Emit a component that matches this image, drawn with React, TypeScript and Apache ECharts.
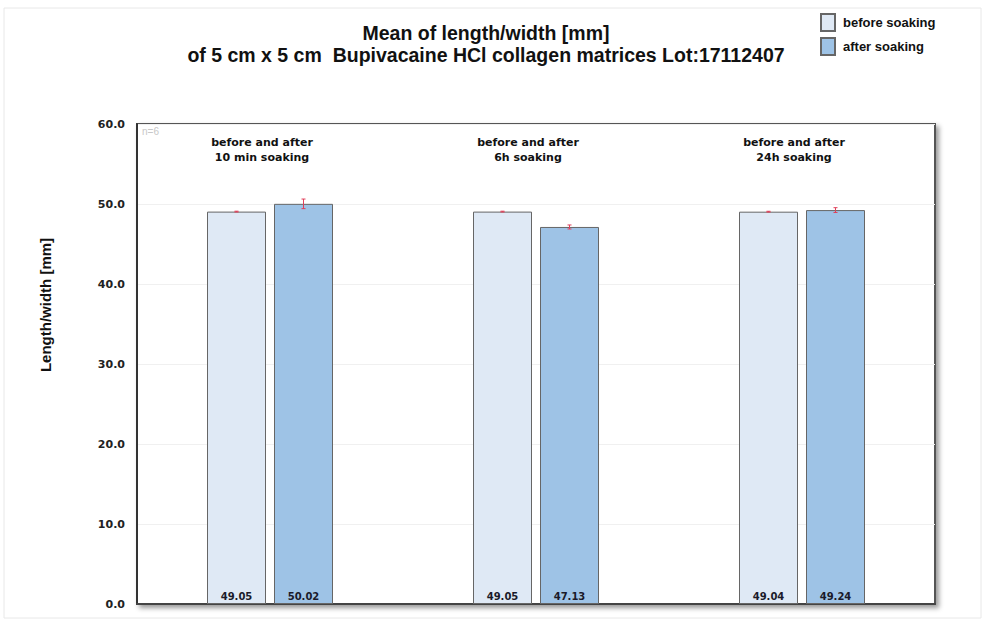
import React, { useEffect, useRef } from "react";
import * as echarts from "echarts";

const categories = ["10 min", "6h", "24h"];
const annotations = ["before and after\n10 min soaking", "before and after\n6h soaking", "before and after\n24h soaking"];
const beforeValues = [49.05, 49.05, 49.04];
const afterValues = [50.02, 47.13, 49.24];
const beforeErr = [0.05, 0.05, 0.05];
const afterErr = [0.6, 0.25, 0.3];
const yTicks = [0, 10, 20, 30, 40, 50, 60];
const seriesNames = ["before soaking", "after soaking"];
const titleLines = ["Mean of length/width [mm]", "of 5 cm x 5 cm  Bupivacaine HCl collagen matrices Lot:17112407"];
const yAxisName = "Length/width [mm]";
const sampleNote = "n=6";

const BAR_W = 59;
const GAP = 8;
const SANS = "Liberation Sans, Arial, sans-serif";
const VERD = "DejaVu Sans, Verdana, sans-serif";

export default function App() {
  const ref = useRef<HTMLDivElement>(null);
  useEffect(() => {
    const chart = echarts.init(ref.current!, null, { renderer: "svg" });
    const errData: any[] = [];
    categories.forEach((_, i) => {
      errData.push([i, beforeValues[i], beforeErr[i], 0]);
      errData.push([i, afterValues[i], afterErr[i], 1]);
    });
    const valueLabel = {
      show: true,
      position: "insideBottom",
      distance: 3,
      formatter: (p: any) => p.value.toFixed(2),
      fontSize: 10,
      fontWeight: "bold",
      color: "#1a1a2a",
      fontFamily: VERD,
    };
    const option: any = {
      animation: false,
      backgroundColor: "#fff",
      textStyle: { fontFamily: SANS },
      title: {
        text: titleLines.join("\n"),
        left: 481,
        textAlign: "center",
        top: 17,
        textStyle: { fontSize: 19.5, fontWeight: "bold", color: "#111", lineHeight: 22, fontFamily: SANS },
      },
      legend: {
        data: seriesNames,
        orient: "vertical",
        left: 815,
        top: 8,
        itemWidth: 14,
        itemHeight: 17,
        itemGap: 5,
        icon: "rect",
        textStyle: { fontSize: 13, fontWeight: "bold", color: "#111", padding: [-8, 0, 0, 3], fontFamily: SANS },
      },
      grid: {
        left: 137,
        right: 50,
        top: 124,
        bottom: 22,
        show: true,
        borderColor: "#555",
        borderWidth: 2,
        backgroundColor: "#fff",
        shadowBlur: 5,
        shadowColor: "rgba(0,0,0,0.4)",
        shadowOffsetX: 3,
        shadowOffsetY: 3,
      },
      xAxis: {
        type: "category",
        data: categories,
        axisLabel: { show: false },
        axisTick: { show: false },
        axisLine: { lineStyle: { color: "#444", width: 2 } },
      },
      yAxis: {
        type: "value",
        min: yTicks[0],
        max: yTicks[yTicks.length - 1],
        interval: 10,
        axisLabel: { formatter: (v: number) => v.toFixed(1), fontSize: 11, fontWeight: "bold", color: "#222", margin: 12, fontFamily: VERD },
        axisTick: { show: false },
        axisLine: { show: true, lineStyle: { color: "#333", width: 2 } },
        splitLine: { lineStyle: { color: "#f0f0f0", width: 1 } },
      },
      series: [
        {
          name: seriesNames[0],
          type: "bar",
          data: beforeValues,
          barWidth: BAR_W,
          barGap: (GAP / BAR_W) * 100 + "%",
          itemStyle: { color: "#dfe9f5", borderColor: "#666", borderWidth: 1 },
          label: valueLabel,
        },
        {
          name: seriesNames[1],
          type: "bar",
          data: afterValues,
          barWidth: BAR_W,
          itemStyle: { color: "#9ec3e6", borderColor: "#666", borderWidth: 1 },
          label: valueLabel,
        },
        {
          type: "custom",
          data: errData,
          z: 10,
          renderItem: (params: any, api: any) => {
            const i = api.value(0);
            const v = api.value(1);
            const e = api.value(2);
            const s = api.value(3);
            const c = api.coord([i, v]);
            const off = (s === 0 ? -1 : 1) * (BAR_W + GAP) / 2;
            const x = c[0] + off;
            const yTop = api.coord([i, v + e])[1];
            const yBot = api.coord([i, v - e])[1];
            const style = { stroke: "#e0405a", lineWidth: 1 };
            return {
              type: "group",
              children: [
                { type: "line", shape: { x1: x, y1: yTop, x2: x, y2: yBot }, style },
                { type: "line", shape: { x1: x - 2, y1: yTop, x2: x + 2, y2: yTop }, style },
                { type: "line", shape: { x1: x - 2, y1: yBot, x2: x + 2, y2: yBot }, style },
              ],
            };
          },
        },
        {
          type: "custom",
          data: annotations.map((t, i) => [i, 58.6]),
          z: 11,
          renderItem: (params: any, api: any) => {
            const idx = params.dataIndex;
            const c = api.coord([api.value(0), api.value(1)]);
            return {
              type: "text",
              x: c[0] - 8,
              y: c[1],
              style: {
                text: annotations[idx],
                textAlign: "center",
                textVerticalAlign: "top",
                fontSize: 11,
                fontWeight: "bold",
                lineHeight: 15,
                fill: "#111",
                fontFamily: VERD,
              },
            };
          },
        },
      ],
      graphic: [
        {
          type: "rect",
          shape: { x: 4, y: 8, width: 977, height: 610 },
          style: { fill: "none", stroke: "#e8e8e8", lineWidth: 1 },
          silent: true,
          z: -10,
        },
        {
          type: "text",
          x: 142,
          y: 126,
          style: { text: sampleNote, fontSize: 10, fill: "#c8c8c8", fontFamily: SANS },
        },
        {
          type: "text",
          x: 45,
          y: 305,
          rotation: Math.PI / 2,
          style: {
            text: yAxisName,
            textAlign: "center",
            textVerticalAlign: "middle",
            fontSize: 15,
            fontWeight: "bold",
            fill: "#111",
            fontFamily: SANS,
          },
        },
      ],
    };
    chart.setOption(option);
    return () => chart.dispose();
  }, []);
  return <div ref={ref} style={{ width: 985, height: 626, position: "absolute", left: 0, top: 0 }} />;
}
